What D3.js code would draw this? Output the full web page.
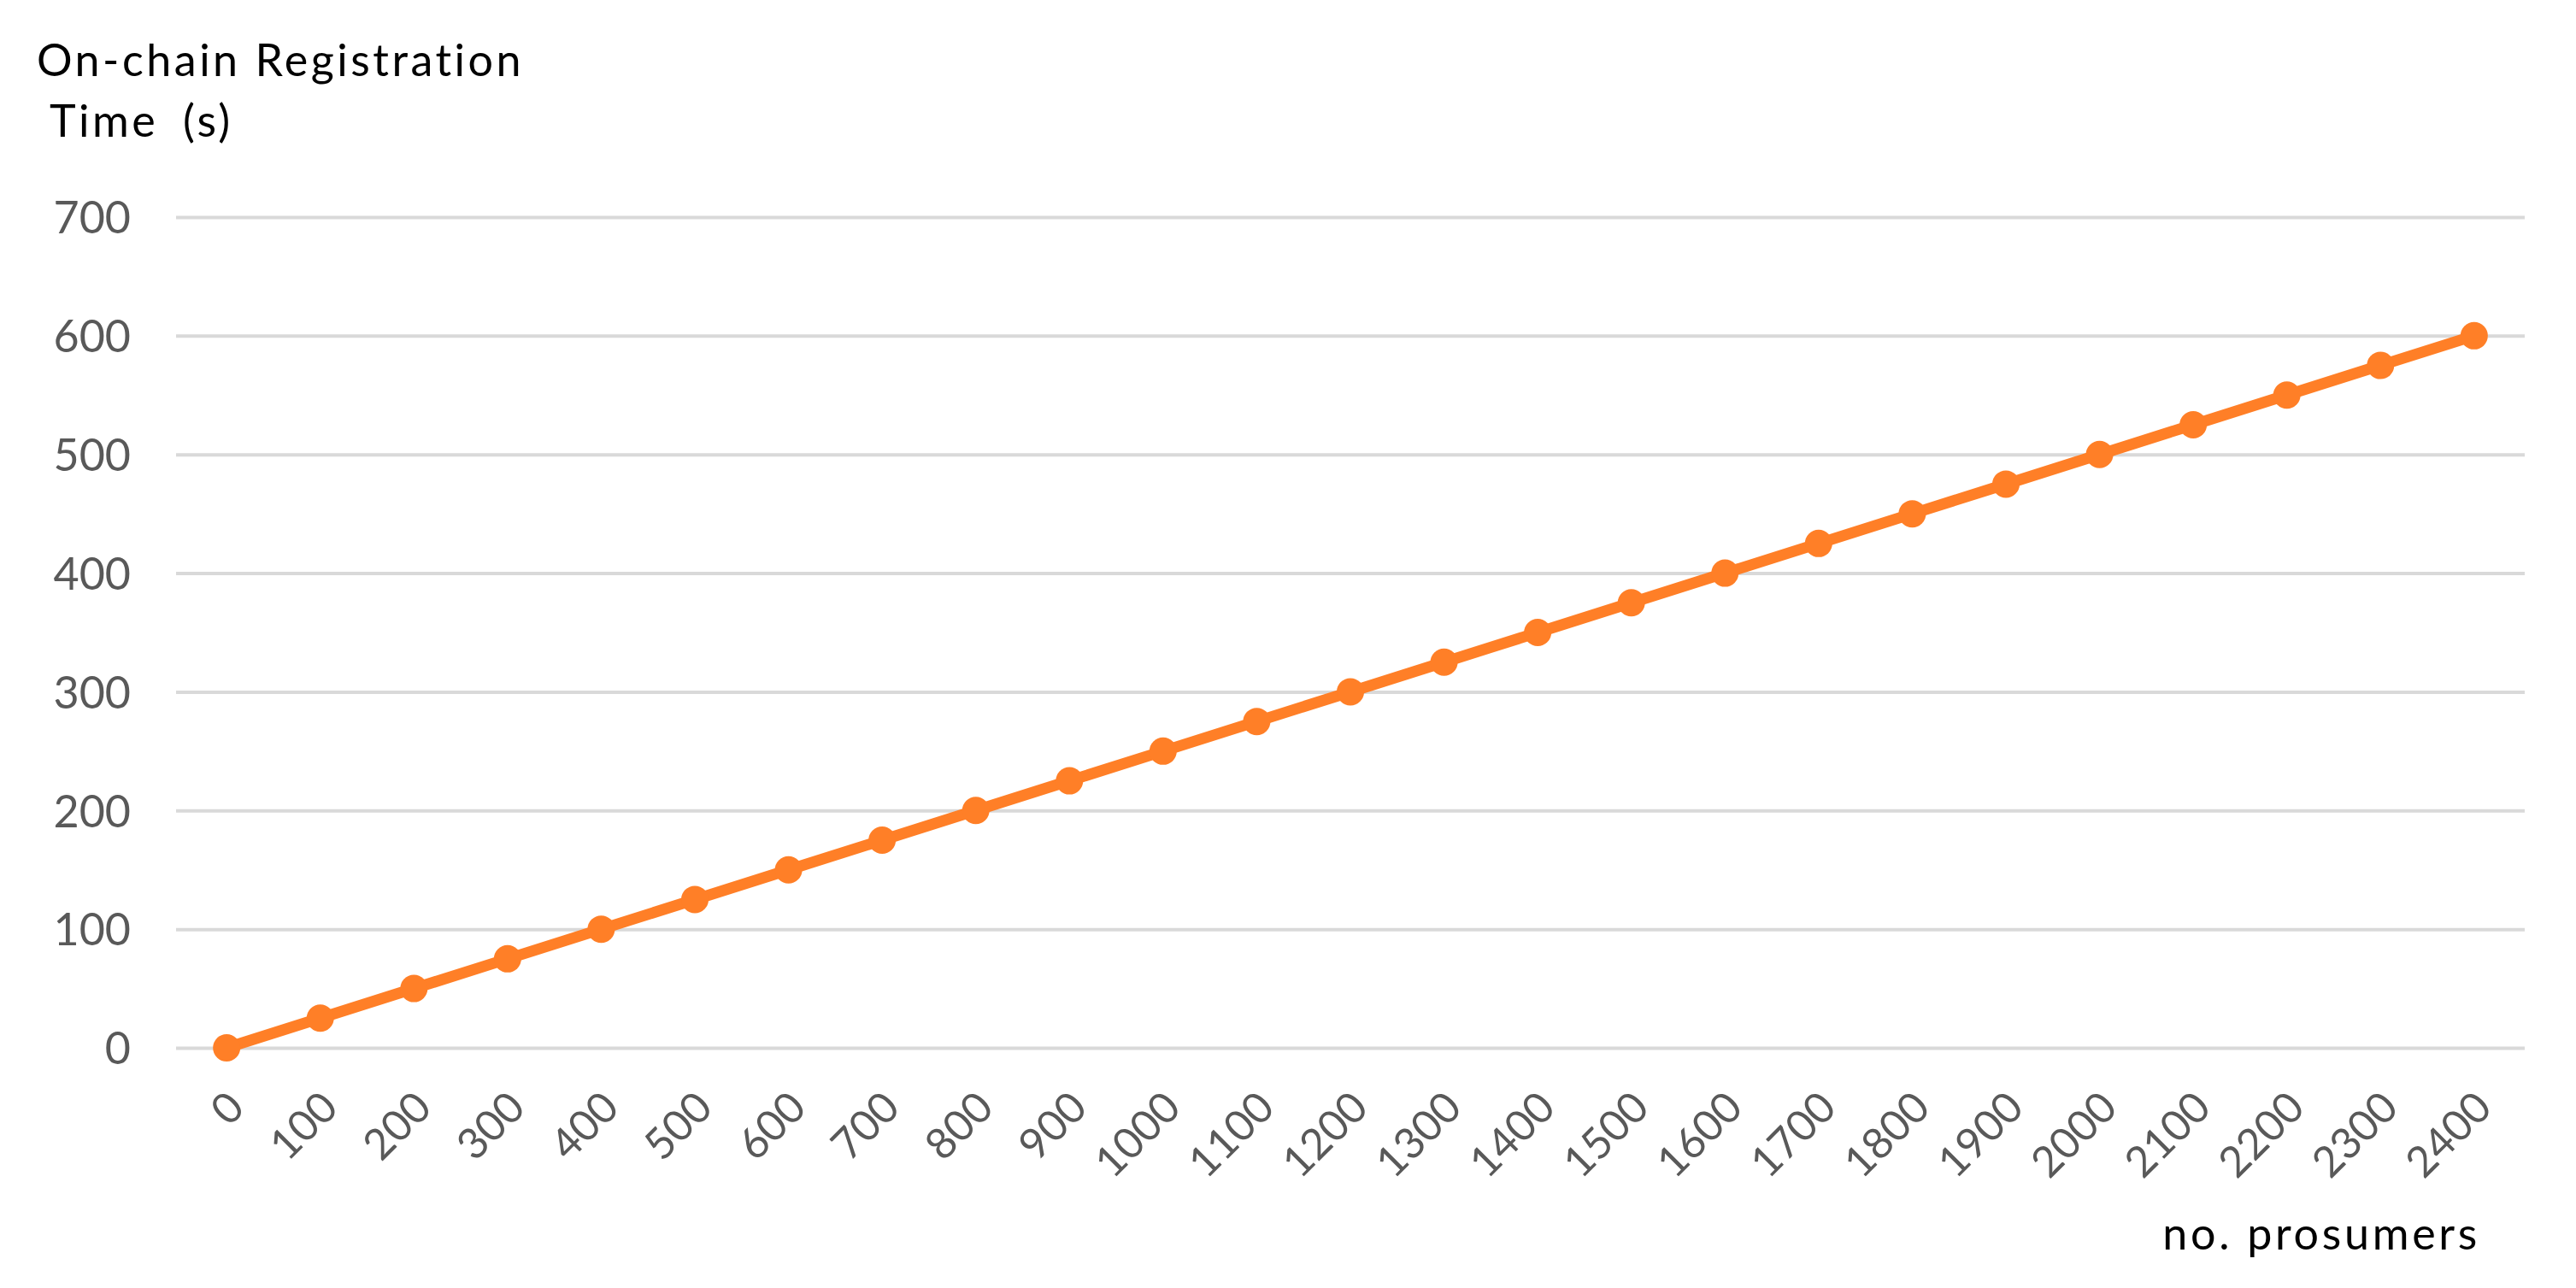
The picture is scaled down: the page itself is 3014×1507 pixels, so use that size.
<!DOCTYPE html>
<html>
<head>
<meta charset="utf-8">
<script src="https://cdn.jsdelivr.net/npm/d3@7"></script>
<style>
  html, body { margin: 0; padding: 0; background: #fff; }
  svg { display: block; }
  text { font-family: Lato, "Open Sans", sans-serif; }
</style>
</head>
<body>
<svg id="chart" width="3014" height="1507"></svg>
<script>
const categories = ["0","100","200","300","400","500","600","700","800","900","1000","1100","1200","1300","1400","1500","1600","1700","1800","1900","2000","2100","2200","2300","2400"];
const values = [0,25,50,75,100,125,150,175,200,225,250,275,300,325,350,375,400,425,450,475,500,525,550,575,600];
const yTicks = [0,100,200,300,400,500,600,700];
const yTitleLines = ["On-chain Registration", "Time (s)"];
const xTitle = "no. prosumers";

const svg = d3.select("#chart");
const plotLeft = 206, plotRight = 2954, plotTop = 254, plotBottom = 1226;

const x = d3.scalePoint().domain(categories).range([plotLeft, plotRight]).padding(0.54);
const y = d3.scaleLinear().domain([0, 700]).range([plotBottom, plotTop]);

// gridlines + y labels
const yAxis = d3.axisLeft(y).tickValues(yTicks).tickSize(-(plotRight - plotLeft)).tickPadding(53).tickFormat(d3.format("d"));
const gy = svg.append("g").attr("transform", `translate(${plotLeft},0)`).call(yAxis);
gy.select(".domain").remove();
gy.selectAll(".tick line").attr("stroke", "#d9d9d9").attr("stroke-width", 4);
gy.selectAll(".tick text").attr("fill", "#595959").attr("font-size", 52).attr("dy", "0.36em");

// x axis labels
const xAxis = d3.axisBottom(x).tickSize(0).tickPadding(0);
const gx = svg.append("g").attr("transform", `translate(0,${plotBottom})`).call(xAxis);
gx.select(".domain").remove();
gx.selectAll(".tick text")
  .attr("fill", "#595959")
  .attr("font-size", 50)
  .attr("text-anchor", "end")
  .attr("dy", "0.36em")
  .attr("transform", "translate(10,60) rotate(-45)");

// line
const line = d3.line().x((d, i) => x(categories[i])).y(d => y(d));
svg.append("path").datum(values)
  .attr("fill", "none").attr("stroke", "#FF7F27").attr("stroke-width", 13)
  .attr("stroke-linejoin", "round").attr("d", line);

svg.append("g").selectAll("circle").data(values).join("circle")
  .attr("cx", (d, i) => x(categories[i])).attr("cy", d => y(d))
  .attr("r", 16).attr("fill", "#FF7F27");

// titles
svg.append("text").attr("x", 43).attr("y", 89).attr("font-size", 52).attr("fill", "#000")
  .attr("letter-spacing", 3.5).text(yTitleLines[0]);
svg.append("text").attr("x", 58).attr("y", 160).attr("font-size", 52).attr("fill", "#000")
  .attr("letter-spacing", 3.5).attr("word-spacing", 12).text(yTitleLines[1]);
svg.append("text").attr("x", 2902).attr("y", 1462).attr("font-size", 52).attr("fill", "#000")
  .attr("letter-spacing", 3.7).attr("text-anchor", "end").text(xTitle);
</script>
</body>
</html>
